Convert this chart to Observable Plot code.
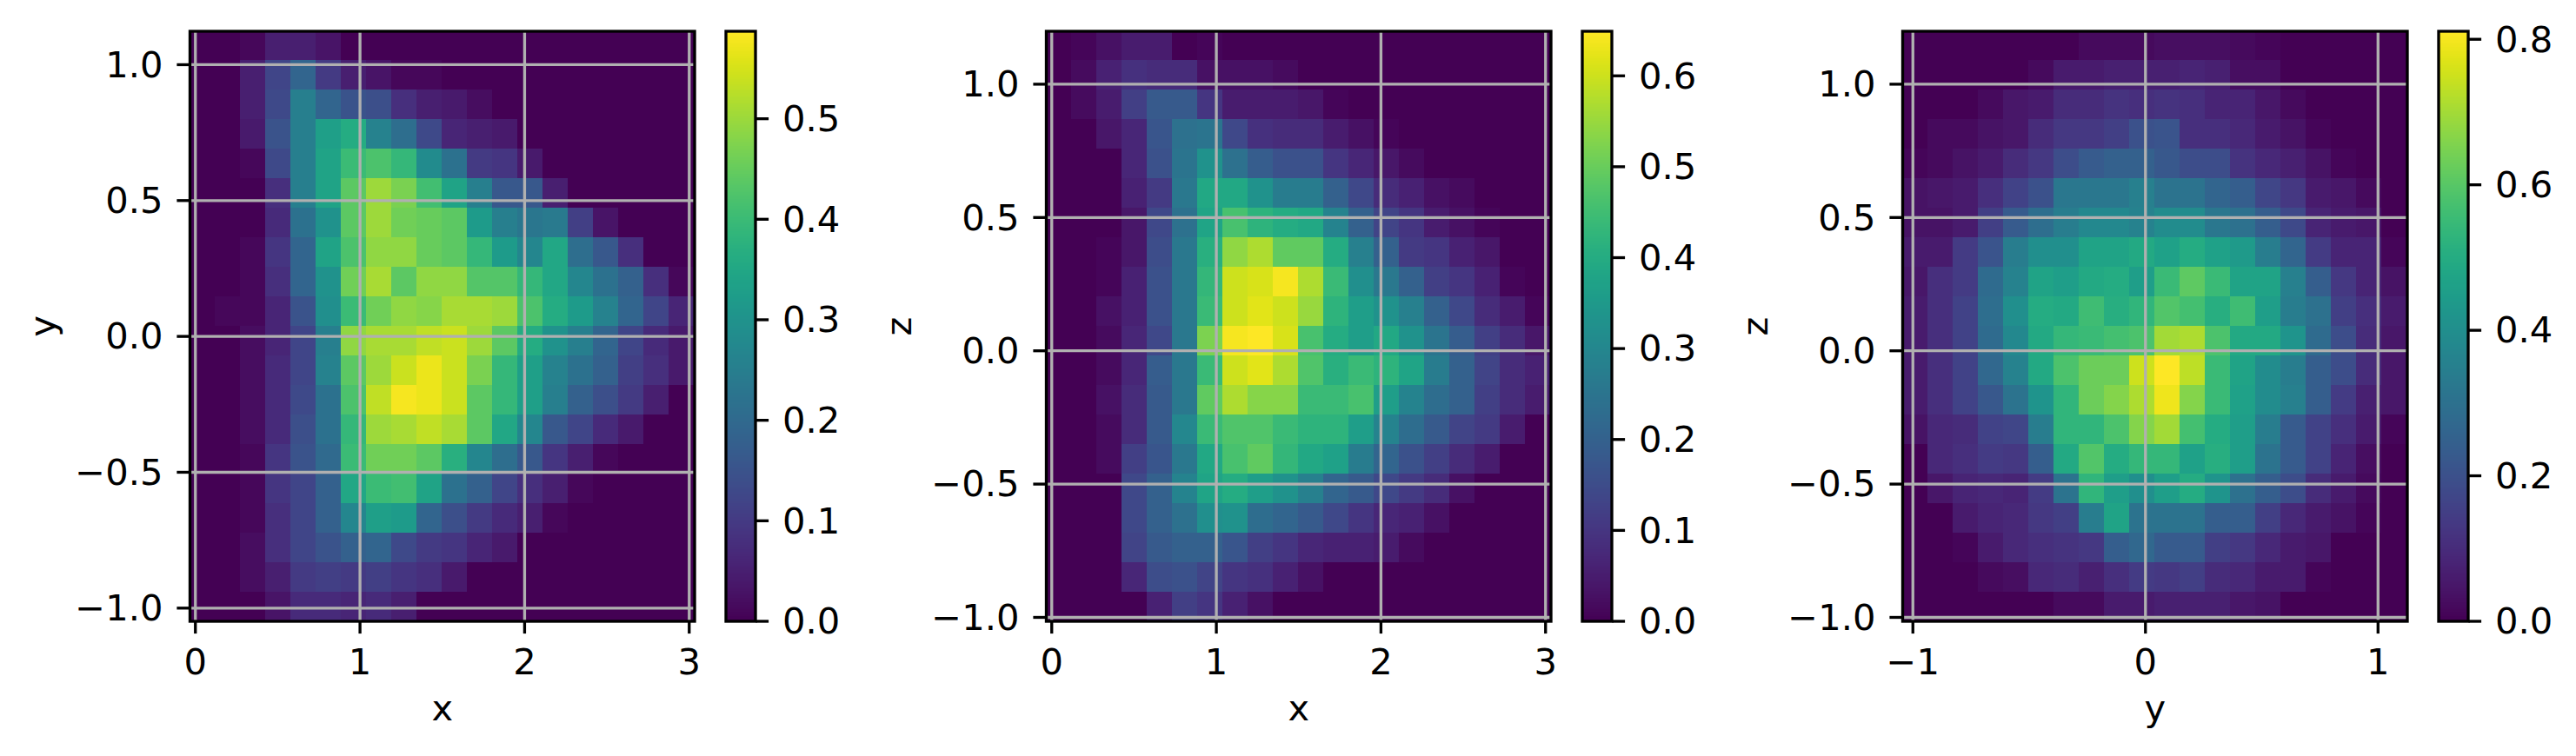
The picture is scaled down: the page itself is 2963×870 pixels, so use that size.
<!DOCTYPE html>
<html>
<head>
<meta charset="utf-8">
<script src="https://cdn.jsdelivr.net/npm/d3@7"></script>
<script src="https://cdn.jsdelivr.net/npm/@observablehq/plot@0.6"></script>
<style>
html,body{margin:0;padding:0;background:#fff;overflow:hidden}
#chart{position:relative;width:2963px;height:870px;background:#fff}
#chart>div,#chart>svg{position:absolute;top:0}
g[aria-label="y-axis tick label"]{translate:0 1px}
</style>
</head>
<body>
<div id="chart"></div>
<script>
// Histogram density x 100, rows run from the top of each panel to the bottom.
const xyRows = [
[0,0,1,5,5,3,0,0,0,0,0,0,0,0,0,0,0,0,0,0],
[0,0,5,12,19,10,5,3,1,1,0,0,0,0,0,0,0,0,0,0],
[0,0,5,13,25,19,15,14,8,5,4,2,0,0,0,0,0,0,0,0],
[0,0,4,15,25,33,36,26,21,13,6,5,4,0,0,0,0,0,0,0],
[0,0,1,13,25,34,40,42,39,28,22,10,9,4,0,0,0,0,0,0],
[0,0,0,8,25,34,44,50,47,41,34,25,16,16,5,0,0,0,0,0],
[0,0,0,7,22,30,44,50,46,45,44,32,25,23,24,11,3,0,0,0],
[0,0,1,9,19,34,42,49,49,45,44,39,32,27,35,21,16,8,0,0],
[0,0,1,8,19,30,46,51,44,49,49,43,43,39,35,27,22,18,8,1],
[0,1,1,6,15,29,40,46,49,48,51,51,50,42,36,32,26,19,12,6],
[0,0,2,6,12,25,49,51,51,53,54,50,44,36,30,25,19,12,7,4],
[0,0,2,7,12,26,44,50,54,57,54,47,39,33,26,22,18,11,8,4],
[0,0,2,7,13,22,42,53,58,57,54,44,39,33,25,18,14,10,5,0],
[0,0,2,7,14,22,39,50,51,53,51,44,35,27,16,12,7,4,0,0],
[0,0,1,9,15,20,40,46,46,44,37,27,21,16,9,5,1,0,0,0],
[0,0,1,9,12,18,35,40,41,34,22,18,12,8,5,1,0,0,0,0],
[0,0,1,8,12,18,27,33,32,19,14,10,7,5,1,0,0,0,0,0],
[0,0,2,8,12,15,18,19,13,10,9,6,4,0,0,0,0,0,0,0],
[0,0,2,5,10,11,10,11,9,8,4,0,0,0,0,0,0,0,0,0],
[0,0,0,3,7,7,6,7,5,0,0,0,0,0,0,0,0,0,0,0]
];
const xzRows = [
[0,1,3,5,5,0,1,0,0,0,0,0,0,0,0,0,0,0,0,0],
[0,2,6,9,8,8,3,3,3,2,0,0,0,0,0,0,0,0,0,0],
[0,2,5,12,18,18,10,5,5,5,4,1,0,0,0,0,0,0,0,0],
[0,0,4,7,17,24,25,14,9,8,8,5,3,1,0,0,0,0,0,0],
[0,0,0,7,16,25,33,24,19,16,16,10,7,4,2,0,0,0,0,0],
[0,0,0,6,11,26,39,39,33,27,27,20,14,8,6,3,2,0,0,0],
[0,0,0,4,14,24,38,46,42,40,39,29,20,13,10,5,3,1,0,0],
[0,0,1,4,15,26,41,54,57,49,49,40,28,20,11,10,6,4,0,0],
[0,0,1,6,16,26,43,60,61,64,57,44,32,26,20,12,10,6,1,0],
[0,0,3,6,16,26,44,60,62,60,55,42,36,33,28,20,14,8,5,1],
[0,0,2,7,14,26,52,64,65,61,46,40,36,39,33,25,19,12,8,4],
[0,0,2,7,19,26,44,60,62,57,47,41,44,42,38,27,20,13,8,6],
[0,0,3,8,18,26,49,57,53,53,44,44,46,36,29,23,20,12,8,5],
[0,0,2,8,18,30,44,47,47,44,42,42,36,29,23,18,13,11,5,0],
[0,0,2,12,17,26,39,46,49,43,39,37,27,21,16,12,8,5,0,0],
[0,0,0,14,20,29,38,40,36,33,28,21,18,14,11,8,3,0,0,0],
[0,0,0,14,20,24,32,33,23,21,18,14,10,7,6,3,0,0,0,0],
[0,0,0,13,18,20,20,17,12,10,7,6,6,5,2,0,0,0,0,0],
[0,0,0,7,15,16,13,10,9,6,3,0,0,0,0,0,0,0,0,0],
[0,0,0,0,6,12,10,6,3,0,0,0,0,0,0,0,0,0,0,0]
];
const yzRows = [
[0,0,0,0,0,0,0,2,2,2,3,3,3,2,1,0,0,0,0,0],
[0,0,0,0,0,2,6,6,7,7,7,8,7,3,3,0,0,0,0,0],
[0,0,0,2,5,6,10,10,12,11,12,11,8,8,5,2,0,0,0,0],
[0,2,2,4,5,10,13,13,15,20,21,11,11,9,6,4,1,0,0,0],
[1,2,4,6,10,13,19,23,25,25,22,19,19,12,9,7,4,1,0,0],
[4,5,6,11,16,20,32,32,32,35,31,31,26,24,17,13,6,5,2,0],
[4,4,6,15,23,29,34,38,38,36,39,39,32,30,24,18,8,6,5,0],
[6,6,14,21,34,40,40,47,47,49,46,50,46,44,34,26,14,8,8,1],
[5,11,14,28,36,47,45,49,50,45,55,61,55,47,47,35,24,13,8,4],
[6,11,16,29,40,50,49,56,51,53,59,57,51,56,45,34,30,15,11,6],
[6,11,16,28,38,49,54,55,57,58,70,71,58,49,49,42,28,19,10,5],
[6,11,16,27,36,49,58,63,63,75,81,73,55,47,39,34,24,19,10,5],
[6,11,16,22,31,42,53,63,66,71,79,66,55,46,39,35,24,14,7,5],
[4,9,10,16,17,34,53,53,58,66,70,57,50,45,34,23,16,11,6,1],
[0,9,11,14,13,24,49,59,50,54,54,46,51,45,31,23,16,8,3,0],
[0,5,8,9,8,14,31,53,45,40,45,50,42,30,24,19,10,6,2,0],
[0,0,6,8,9,13,15,34,47,31,31,31,24,24,15,9,6,4,1,0],
[0,0,1,6,9,11,12,13,24,27,23,23,15,13,9,6,5,0,0,0],
[0,0,0,2,3,9,10,7,11,14,13,15,10,9,6,6,1,0,0,0],
[0,0,0,0,0,0,2,2,6,6,7,7,7,5,4,0,0,0,0,0]
];
const xTicks123 = [0, 1, 2, 3];
const yTicksXY = [-1, -0.5, 0, 0.5, 1];
const zTicks = [-1, -0.5, 0, 0.5, 1];
const yTicksX = [-1, 0, 1];
const cbTicks1 = [0, 0.1, 0.2, 0.3, 0.4, 0.5];
const cbTicks2 = [0, 0.1, 0.2, 0.3, 0.4, 0.5, 0.6];
const cbTicks3 = [0, 0.2, 0.4, 0.6, 0.8];

const FONT = "DejaVu Sans";
const FS = 41.67, LW = 3.33, TS = 14.6, PADX = 17, PADY = 16.5;
const H = 870, MT = 35.5, MB = 155.5;
const chart = document.getElementById("chart");

function place(node, left) {
  node.style.left = left + "px";
  chart.appendChild(node);
}

function panel({rows, xDomain, yDomain, xTicks, yTicks, xFmt, xLabel, yLabel, vmax, left}) {
  const [x0, x1] = xDomain, [y0, y1] = yDomain;
  const n = rows.length, m = rows[0].length;
  const cells = rows.flatMap((row, r) => row.map((v, c) => ({
    x1: x0 + c * (x1 - x0) / m,
    x2: x0 + (c + 1) * (x1 - x0) / m,
    y1: y1 - r * (y1 - y0) / n,
    y2: y1 - (r + 1) * (y1 - y0) / n,
    v: v / 100
  })));
  const fig = Plot.plot({
    width: 830, height: H, marginLeft: 218, marginRight: 31.5, marginTop: MT, marginBottom: MB,
    style: {fontFamily: FONT, fontSize: FS + "px", background: "transparent", color: "black"},
    x: {domain: xDomain},
    y: {domain: yDomain},
    color: {type: "linear", scheme: "viridis", domain: [0, vmax]},
    marks: [
      Plot.rect(cells, {x1: "x1", x2: "x2", y1: "y1", y2: "y2", fill: "v", shapeRendering: "crispEdges"}),
      Plot.gridX(xTicks, {stroke: "#b0b0b0", strokeOpacity: 1, strokeWidth: LW}),
      Plot.gridY(yTicks, {stroke: "#b0b0b0", strokeOpacity: 1, strokeWidth: LW}),
      Plot.axisX({ticks: xTicks, tickFormat: xFmt, tickSize: TS, tickPadding: PADX, strokeWidth: LW, fontSize: FS,
        label: xLabel, labelAnchor: "center", labelArrow: "none", labelOffset: 114}),
      Plot.axisY({ticks: yTicks, tickFormat: d3.format(".1f"), tickSize: TS, tickPadding: PADY, strokeWidth: LW, fontSize: FS,
        label: yLabel, labelAnchor: "center", labelArrow: "none", labelOffset: 185}),
      Plot.frame({stroke: "black", strokeWidth: LW})
    ]
  });
  place(fig, left);
}

function colorbar({vmax, ticks, left}) {
  const bands = d3.range(256).map(i => ({y1: i / 256 * vmax, y2: (i + 1) / 256 * vmax, v: (i + 0.5) / 256 * vmax}));
  const fig = Plot.plot({
    width: 150, height: H, marginLeft: 4.5, marginRight: 150 - 38.5, marginTop: MT, marginBottom: MB,
    style: {fontFamily: FONT, fontSize: FS + "px", background: "transparent", color: "black"},
    x: {domain: [0, 1], axis: null},
    y: {domain: [0, vmax]},
    color: {type: "linear", scheme: "viridis", domain: [0, vmax]},
    marks: [
      Plot.rect(bands, {x1: 0, x2: 1, y1: "y1", y2: "y2", fill: "v", shapeRendering: "crispEdges"}),
      Plot.axisY({anchor: "right", ticks, tickFormat: d3.format(".1f"), tickSize: TS, tickPadding: PADY, strokeWidth: LW, fontSize: FS, label: null}),
      Plot.frame({stroke: "black", strokeWidth: LW})
    ]
  });
  place(fig, left);
}

const xDom = [-0.033, 3.033], zDom = [-1.0147, 1.1985];
panel({rows: xyRows, xDomain: xDom, yDomain: [-1.0486, 1.123], xTicks: xTicks123, yTicks: yTicksXY,
  xFmt: d3.format("d"), xLabel: "x", yLabel: "y", vmax: 0.587, left: 0});
colorbar({vmax: 0.587, ticks: cbTicks1, left: 830});
panel({rows: xzRows, xDomain: xDom, yDomain: zDom, xTicks: xTicks123, yTicks: zTicks,
  xFmt: d3.format("d"), xLabel: "x", yLabel: "z", vmax: 0.649, left: 985});
colorbar({vmax: 0.649, ticks: cbTicks2, left: 1815});
panel({rows: yzRows, xDomain: [-1.044, 1.126], yDomain: zDom, xTicks: yTicksX, yTicks: zTicks,
  xFmt: d3.format("d"), xLabel: "y", yLabel: "z", vmax: 0.811, left: 1970});
colorbar({vmax: 0.811, ticks: cbTicks3, left: 2800});
</script>
</body>
</html>
